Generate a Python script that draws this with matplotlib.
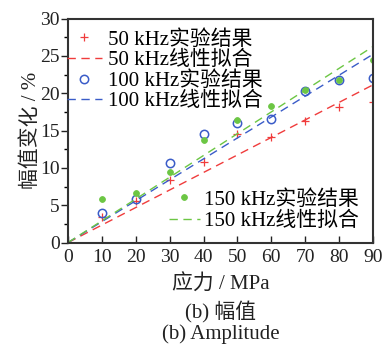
import numpy as np
import matplotlib
matplotlib.use("Agg")
import matplotlib.pyplot as plt
from matplotlib.ticker import MultipleLocator

plt.rcParams['font.family'] = ['Liberation Serif', 'Noto Sans CJK SC']
plt.rcParams['font.weight'] = 'light'
plt.rcParams['axes.unicode_minus'] = False

stress = [10, 20, 30, 40, 50, 60, 70, 80, 90]
amp_50k = [3.37, 5.55, 8.37, 10.8, 14.5, 14.2, 16.3, 18.1, 18.85]
amp_100k = [4.0, 5.8, 10.7, 14.5, 16.0, 16.5, 20.3, 21.75, 22.0]
amp_150k = [5.8, 6.6, 9.5, 13.7, 16.4, 18.3, 20.4, 21.75, 24.5]
labels_exp = ['50 kHz实验结果', '100 kHz实验结果', '150 kHz实验结果']
labels_fit = ['50 kHz线性拟合', '100 kHz线性拟合', '150 kHz线性拟合']
colors = ['#f03c3c', '#3a5cc8', '#6cc644']

fig = plt.figure(figsize=(3.91, 3.51), dpi=100)
ax = fig.add_axes([0.174, 0.309, 0.78, 0.638])

x = np.array(stress, dtype=float)
xfit = np.array([0, 90], dtype=float)
handles = []
series = [amp_50k, amp_100k, amp_150k]
for i, ys in enumerate(series):
    y = np.array(ys)
    k = np.sum(x * y) / np.sum(x * x)
    if i == 0:
        hm, = ax.plot(x, y, linestyle='none', marker='+', ms=6, mew=0.9,
                      color=colors[i], label=labels_exp[i])
    elif i == 1:
        hm, = ax.plot(x, y, linestyle='none', marker='o', ms=6, mfc='none',
                      mew=1.1, color=colors[i], label=labels_exp[i])
    else:
        hm, = ax.plot(x, y, linestyle='none', marker='o', ms=4.2, mew=0.6,
                      color=colors[i], label=labels_exp[i])
    hl, = ax.plot(xfit, k * xfit, linestyle=(0, (6, 4)), lw=1.0,
                  color=colors[i], label=labels_fit[i])
    handles.append((hm, hl))

ax.set_xlim(0, 90)
ax.set_ylim(0, 30)
ax.xaxis.set_major_locator(MultipleLocator(10))
ax.yaxis.set_major_locator(MultipleLocator(5))
ax.yaxis.set_minor_locator(MultipleLocator(2.5))
ax.tick_params(axis='x', which='major', direction='in', length=5, width=1.0,
               labelsize=14, colors='#222222', pad=5)
ax.tick_params(axis='y', which='major', direction='out', length=5, width=1.0,
               labelsize=14, colors='#222222', pad=1)
ax.tick_params(axis='y', which='minor', direction='out', length=3, width=1.0)
for s in ax.spines.values():
    s.set_linewidth(1.5)
    s.set_color('#333333')

ax.set_xlabel('应力 / MPa', fontsize=15, labelpad=6, color='#222222')
ax.set_ylabel('幅值变化 / %', fontsize=15, labelpad=-1, color='#222222')

leg1 = ax.legend([handles[0][0], handles[0][1], handles[1][0], handles[1][1]],
                 [labels_exp[0], labels_fit[0], labels_exp[1], labels_fit[1]],
                 loc='upper left', bbox_to_anchor=(-0.005, 0.95), frameon=False,
                 fontsize=15, handlelength=1.7, handletextpad=0.3,
                 labelspacing=0.05, borderpad=0, borderaxespad=0)
ax.add_artist(leg1)
ax.legend([handles[2][0], handles[2][1]], [labels_exp[2], labels_fit[2]],
          loc='upper left', bbox_to_anchor=(0.33, 0.235), frameon=False,
          fontsize=15, handlelength=1.5, handletextpad=0.2,
          labelspacing=0.1, borderpad=0, borderaxespad=0)

fig.text(0.5 * (0.174 + 0.954), 1 - 312 / 351, '(b) 幅值', ha='center', va='center',
         fontsize=15, color='#222222')
fig.text(0.5 * (0.174 + 0.954), 1 - 334 / 351, '(b) Amplitude', ha='center', va='center',
         fontsize=15, color='#222222')

fig.savefig('out.png', dpi=100)
